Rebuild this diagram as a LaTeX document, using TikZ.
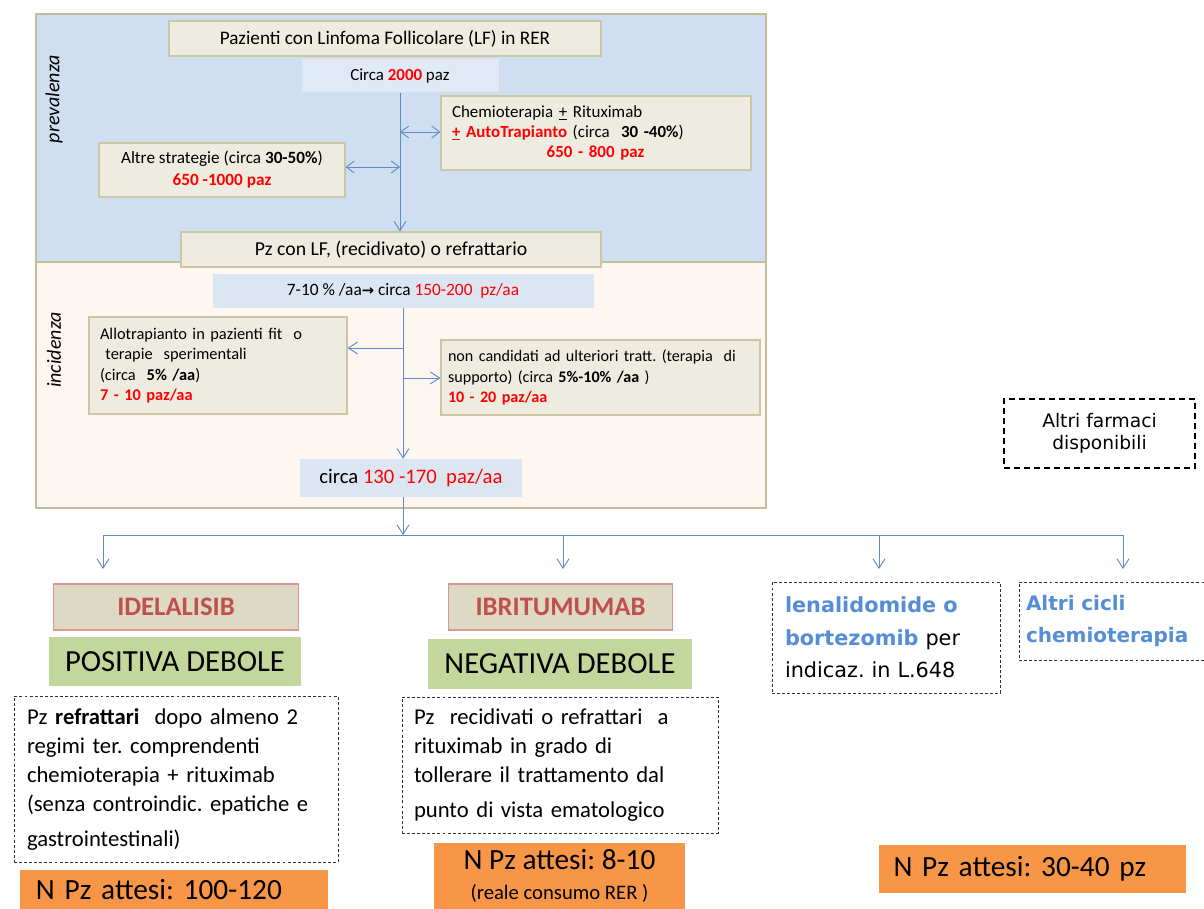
\documentclass[tikz,border=0pt]{standalone}
\usepackage{fontspec}
\setmainfont{Carlito}
\newfontfamily\dvs{DejaVu Sans}
\usetikzlibrary{arrows.meta}
\definecolor{topbg}{RGB}{207,222,240}
\definecolor{botbg}{RGB}{253,246,241}
\definecolor{framec}{RGB}{196,189,151}
\definecolor{boxfill}{RGB}{238,236,225}
\definecolor{boxline}{RGB}{205,198,165}
\definecolor{ratefill}{RGB}{220,230,242}
\definecolor{ratefillb}{RGB}{224,233,245}
\definecolor{arrowc}{RGB}{95,140,198}
\definecolor{drugfill}{RGB}{221,217,195}
\definecolor{drugline}{RGB}{217,150,148}
\definecolor{drugtext}{RGB}{192,80,77}
\definecolor{greenfill}{RGB}{195,214,155}
\definecolor{orangefill}{RGB}{247,150,70}
\definecolor{bluetext}{RGB}{85,142,213}
\newcommand\fs[2]{\fontsize{#1}{#2}\selectfont}
\newcommand\rd[1]{\textcolor{red}{#1}}
\newcommand\rb[1]{\textcolor{red}{\bfseries #1}}
\begin{document}
\frenchspacing
\begin{tikzpicture}[x=0.75pt,y=-0.75pt,
  sz/.style 2 args={minimum width=#1*0.75pt, minimum height=#2*0.75pt},
  tw/.style={text width=#1*0.75pt, align=left},
  tbox/.style={draw=boxline, fill=boxfill, line width=0.8pt, inner sep=0pt},
  ratebox/.style={fill=ratefill, inner sep=0pt},
  drug/.style={draw=drugline, fill=drugfill, line width=0.9pt, inner sep=0pt, text=drugtext, font=\fs{20}{24}\bfseries},
  verdict/.style={fill=greenfill, inner sep=0pt, font=\fs{23}{27}},
  dbox/.style={draw=black!80, dash pattern=on 2.2pt off 1.6pt, line width=0.6pt, inner sep=0pt},
  obox/.style={fill=orangefill, inner sep=0pt, font=\fs{22}{26}},
  conn/.style={draw=arrowc, line width=0.7pt},
  arr/.style={conn, -{Straight Barb[length=7pt,width=9pt]}},
  darr/.style={conn, {Straight Barb[length=6pt,width=9pt]}-{Straight Barb[length=6pt,width=9pt]}},
  side/.style={rotate=90, font=\fs{15}{17}\itshape}
]
\useasboundingbox (0,0) rectangle (1204,909);
\fill[white] (0,0) rectangle (1204,909);
% frame regions
\fill[topbg] (36,14) rectangle (766,262);
\fill[botbg] (36,262) rectangle (766,508);
\draw[framec, line width=2.2pt] (36,14) rectangle (766,262);
\draw[framec, line width=2.2pt] (36,262) rectangle (766,508);
\node[side] (prev) at (54,99) {prevalenza};
\node[side] (inc) at (54,350) {incidenza};

% prevalenza
\node[tbox, sz={432}{35}, font=\fs{14.4}{17}] (title) at (385,38.5) {Pazienti con Linfoma Follicolare (LF) in RER};
\node[ratebox, fill=ratefillb, sz={197}{33}, font=\fs{12.7}{15}] (c2000) at (400,76) {Circa \rb{2000} paz};
\node[tbox, sz={310}{74}, tw=288, font=\fs{12.7}{15}] (chemio) at (596,133)
 {Chemioterapia \underline{+} Rituximab\\
  \rb{\underline{+} AutoTrapianto} (circa\ \ \textbf{30 -40\%})\\
  \hspace*{71pt}\rb{650 - 800 paz}};
\node[tbox, sz={246}{54}, align=center, font=\fs{12.9}{16.5}] (altre) at (222,170)
 {Altre strategie (circa \textbf{30-50\%})\\ \rb{650 -1000 paz}};
\node[tbox, sz={420}{35}, font=\fs{14.8}{17}] (pzlf) at (391,249.5) {Pz con LF, (recidivato) o refrattario};

% incidenza
\node[ratebox, sz={381}{34}, font=\fs{13}{15}] (rate) at (403,291) {7-10 \% /aa{\dvs\bfseries\fs{11}{13}→} circa \rd{150-200\ \ pz/aa}};
\node[tbox, sz={258}{97}, tw=236, font=\fs{12.3}{15.4}] (allo) at (218,365.5)
 {Allotrapianto in pazienti fit\ \ o\\
  \ terapie\ \ sperimentali\\
  (circa\ \ \textbf{5\% /aa})\\
  \rb{7 - 10 paz/aa}};
\node[tbox, sz={319}{75}, tw=305, font=\fs{12.1}{15.5}] (nonc) at (600.5,377.5)
 {non candidati ad ulteriori tratt. (terapia\ \ di\\
  supporto) (circa \textbf{5\%-10\% /aa} )\\
  \rb{10 - 20 paz/aa}};
\node[ratebox, sz={222}{38}, font=\fs{15.5}{18}] (c130) at (411,478) {circa \rd{130 -170\ \ paz/aa}};

% connectors in frame
\draw[arr] (c2000.south) -- (c2000.south |- pzlf.north);
\coordinate (j1) at (400,132);
\coordinate (j2) at (400,167);
\draw[darr] (j1) -- (j1 -| chemio.west);
\draw[darr] (altre.east |- j2) -- (j2);
\draw[arr] (rate.south) -- (rate.south |- c130.north);
\coordinate (k1) at (403,348);
\coordinate (k2) at (403,378);
\draw[arr] (k1) -- (k1 -| allo.east);
\draw[arr] (k2) -- (k2 -| nonc.west);

% distribution
\coordinate (hub) at (403,535);
\coordinate (h1) at (103,535);
\coordinate (h2) at (563,535);
\coordinate (h3) at (879,535);
\coordinate (h4) at (1123,535);
\coordinate (t1) at (103,569);
\coordinate (t2) at (563,569);
\coordinate (t3) at (879,569);
\coordinate (t4) at (1123,569);
\draw[arr] (c130.south -| hub) -- (hub);
\draw[conn] (h1) -- (h4);
\draw[arr] (h1) -- (t1);
\draw[arr] (h2) -- (t2);
\draw[arr] (h3) -- (t3);
\draw[arr] (h4) -- (t4);

% other drugs note
\node[draw=black, line width=1.6pt, dash pattern=on 4.5pt off 3pt, sz={191}{69}, inner sep=0pt, align=center, font=\dvs\fs{14}{16.3}] (altrif) at (1099.5,433.5) {Altri farmaci\\disponibili};

% column 1
\node[drug, sz={245}{46}] (idel) at (176,607) {IDELALISIB};
\node[verdict, sz={252}{49}] (pos) at (175,661.5) {POSITIVA DEBOLE};
\node[dbox, sz={324}{166}, tw=298, font=\fs{17}{21.75}] (crit1) at (176,779)
 {Pz \textbf{refrattari}\ \ dopo almeno 2\\
  regimi ter. comprendenti\\
  chemioterapia + rituximab\\
  (senza controindic. epatiche e\\[4.5pt]
  gastrointestinali)};
\node[obox, sz={308}{39}, tw=276] (n1) at (174,889.5) {N Pz attesi: 100-120};

% column 2
\node[drug, sz={224}{46}] (ibri) at (560.5,607) {IBRITUMUMAB};
\node[verdict, sz={264}{50}] (neg) at (560,664) {NEGATIVA DEBOLE};
\node[dbox, sz={316}{136}, tw=292, font=\fs{17}{21.75}] (crit2) at (560,765)
 {Pz\ \ recidivati o refrattari\ \ a\\
  rituximab in grado di\\
  tollerare il trattamento dal\\[5pt]
  punto di vista ematologico};
\node[obox, sz={251}{66}, align=center] (n2) at (559.5,876) {N Pz attesi: 8-10\\[-3pt]{\fs{15.5}{17}(reale consumo RER )}};

% column 3 / 4
\node[dbox, sz={228}{111}, tw=202, font=\dvs\fs{15.6}{24.4}] (lena) at (886,637.5)
 {{\color{bluetext}\bfseries lenalidomide o}\\
  {\color{bluetext}\bfseries bortezomib} per\\
  indicaz. in L.648};
\node[dbox, sz={188}{78}, tw=174, text=bluetext, font=\dvs\bfseries\fs{15}{24.4}] (cicli) at (1113,621)
 {Altri cicli\\chemioterapia};
\node[obox, sz={307}{48}, tw=278] (n3) at (1032.5,869) {N Pz attesi: 30-40 pz};
\end{tikzpicture}
\end{document}
